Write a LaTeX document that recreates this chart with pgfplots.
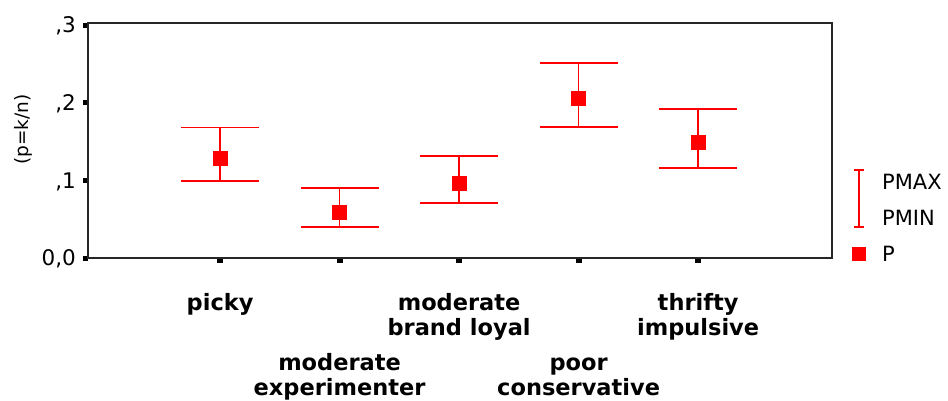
\documentclass[border=0pt]{standalone}
\usepackage{fontspec}
\setmainfont{DejaVu Sans}
\usepackage{pgfplots}
\pgfplotsset{compat=1.18}
\usepackage{pgfplotstable}

\pgfplotstableread{
x p pmax pmin
1 0.1290 0.1680 0.0995
2 0.0596 0.0905 0.0403
3 0.0962 0.1317 0.0704
4 0.2056 0.2507 0.1683
5 0.1485 0.1915 0.1155
}\datatable

\begin{document}
\begin{tikzpicture}[x=1pt,y=1pt]
\useasboundingbox (0,0) rectangle (948,400);
\begin{axis}[
  at={(88pt,142pt)}, anchor=south west,
  scale only axis, width=744pt, height=235pt,
  xmin=-0.105, xmax=6.12, ymin=0, ymax=0.3026,
  axis line style={black!85, line width=1.4pt},
  xtick={1,2,3,4,5},
  xticklabels={
    {\begin{tabular}[t]{@{}c@{}}picky\end{tabular}},
    {\raisebox{-60pt}{\begin{tabular}[t]{@{}c@{}}moderate\\experimenter\end{tabular}}},
    {\begin{tabular}[t]{@{}c@{}}moderate\\brand loyal\end{tabular}},
    {\raisebox{-60pt}{\begin{tabular}[t]{@{}c@{}}poor\\conservative\end{tabular}}},
    {\begin{tabular}[t]{@{}c@{}}thrifty\\impulsive\end{tabular}}
  },
  ytick={0,0.1,0.2,0.3},
  yticklabels={{0,0},{,1},{,2},{,3}},
  xtick pos=bottom, ytick pos=left,
  tick align=outside, major tick length=5pt,
  xtick style={line width=6pt, black},
  ytick style={line width=5pt, black},
  xticklabel style={anchor=base, inner sep=0pt, yshift=-47pt,
    font=\fontsize{22.5pt}{25pt}\selectfont\bfseries},
  yticklabel style={anchor=base east, inner sep=0pt, xshift=-7pt, yshift=-7.8pt,
    font=\fontsize{21.5pt}{24pt}\selectfont},
  ylabel={(p=k/n)},
  ylabel style={at={(axis description cs:-0.0874,0.547)}, anchor=center,
    inner sep=0pt, font=\fontsize{18.5pt}{20pt}\selectfont},
  clip=false,
  legend cell align=left,
  legend style={draw=none, fill=none, at={(1.02688,0.35532)}, anchor=north west,
    inner sep=0pt, row sep=21pt, column sep=16pt,
    font=\fontsize{21pt}{24pt}\selectfont,
    nodes={inner sep=0pt, text height=15pt, text depth=0pt}},
]
\addplot[red, only marks, mark=square*, mark size=7pt, mark options={red, fill=red},
  forget plot,
  error bars/.cd, y dir=both, y explicit,
  error bar style={line width=1.7pt, red},
  error mark options={line width=1.7pt, red, mark size=39pt, rotate=90}]
  table[x=x, y=p,
    y error plus expr=\thisrow{pmax}-\thisrow{p},
    y error minus expr=\thisrow{p}-\thisrow{pmin}] {\datatable};

\addlegendimage{legend image code/.code={
  \draw[draw=red, line width=1.6pt, overlay] (0pt,12pt) -- (0pt,-45pt)
     (-5pt,12pt) -- (5pt,12pt) (-5pt,-45pt) -- (5pt,-45pt);
  \path[draw=none, fill=none] (-7pt,-7pt) rectangle (7pt,7pt);}}
\addlegendentry{PMAX}
\addlegendimage{legend image code/.code={\path[draw=none, fill=none] (-7pt,-7pt) rectangle (7pt,7pt);}}
\addlegendentry{PMIN}
\addlegendimage{legend image code/.code={\fill[red, draw=none] (-7pt,-7pt) rectangle (7pt,7pt);}}
\addlegendentry{P}
\end{axis}
\end{tikzpicture}
\end{document}
